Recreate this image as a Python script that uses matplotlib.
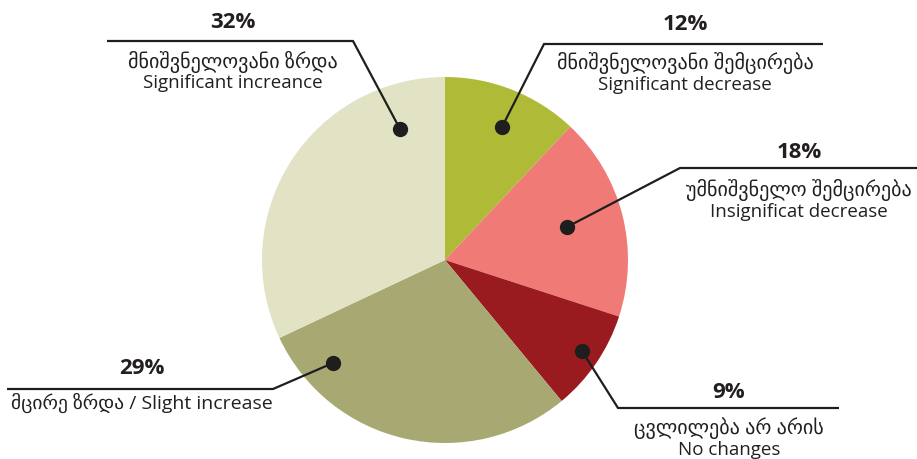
import matplotlib.pyplot as plt

# Shares of answers (clockwise from top)
values = [12, 18, 9, 29, 32]
pct_labels = ["12%", "18%", "9%", "29%", "32%"]
geo_labels = ["მნიშვნელოვანი შემცირება", "უმნიშვნელო შემცირება",
              "ცვლილება არ არის", "მცირე ზრდა / Slight increase",
              "მნიშვნელოვანი ზრდა"]
eng_labels = ["Significant decrease", "Insignificat decrease",
              "No changes", "", "Significant increance"]
colors = ["#afbb37", "#f07b76", "#9a1b1f", "#a8a873", "#e2e3c4"]

W, H = 917, 459
fig = plt.figure(figsize=(W / 100, H / 100), dpi=100)
ax = fig.add_axes([0, 0, 1, 1])

def Y(py):
    return H - py

ax.pie(values, colors=colors, startangle=90, counterclock=False,
       center=(445, Y(260)), radius=183, frame=True,
       wedgeprops=dict(linewidth=0))
ax.set_xlim(0, W)
ax.set_ylim(0, H)
ax.set_aspect("equal")
ax.axis("off")

# leader lines: dot -> elbow -> end of underline
leaders = [
    [(502, 127), (544, 44), (823, 44)],
    [(567, 227), (680, 168), (917, 168)],
    [(582, 351), (618, 408), (839, 408)],
    [(333, 363), (273, 389), (7, 389)],
    [(400, 129), (353, 41), (107, 41)],
]
# text anchors: x center, y of percent, y of georgian line, y of english line
text_pos = [
    (685, 24, 63, 85),
    (799, 153, 190, 212),
    (729, 392, 428, 450),
    (142, 369, 403, None),
    (233, 22, 62, 83),
]

fam = ["Open Sans", "DejaVu Sans"]
for pts, (tx, yp, yg, ye), p, g, e in zip(leaders, text_pos, pct_labels,
                                          geo_labels, eng_labels):
    xs = [q[0] for q in pts]
    ys = [Y(q[1]) for q in pts]
    ax.plot(xs, ys, color="#1e1e1e", lw=1.6, solid_capstyle="butt", zorder=3)
    ax.plot(xs[0], ys[0], "o", color="#1e1e1e", ms=10, zorder=4)
    ax.text(tx, Y(yp), p, ha="center", va="center", fontsize=16,
            fontweight="bold", color="#231f20", family=fam)
    ax.text(tx, Y(yg), g, ha="center", va="center",
            fontsize=14.5 if e else 14, color="#231f20", family=fam)
    if e:
        ax.text(tx, Y(ye), e, ha="center", va="center", fontsize=13.5,
                color="#231f20", family=fam)

fig.savefig("out.png", dpi=100)
